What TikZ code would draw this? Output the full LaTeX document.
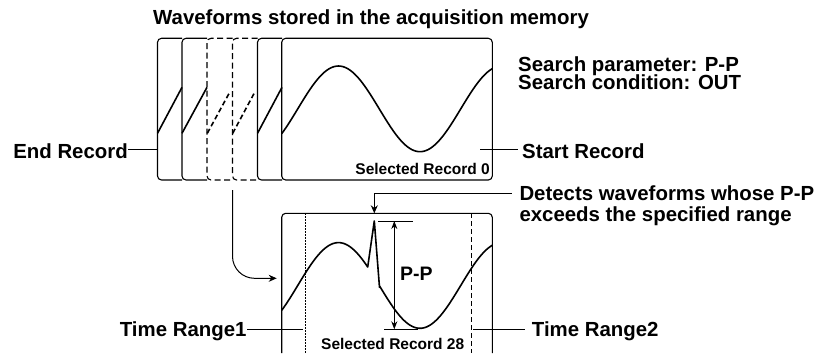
\documentclass[tikz,border=0pt]{standalone}
\usepackage{fontspec}
\setmainfont{Liberation Sans}
\usetikzlibrary{arrows.meta}
\begin{document}
\begin{tikzpicture}[x=1pt,y=-1pt,
  frame/.style={line width=1.1pt, rounded corners=4pt},
  dframe/.style={frame, dash pattern=on 6pt off 3.5pt},
  wave/.style={line width=1.6pt, line join=round},
  lbl/.style={font=\fontsize{20.4}{24}\selectfont\bfseries, inner sep=0pt},
  mlbl/.style={font=\fontsize{19.5}{22}\selectfont\bfseries, inner sep=0pt},
  slbl/.style={font=\fontsize{15.5}{18}\selectfont\bfseries, inner sep=0pt},
  conn/.style={line width=1pt},
  tip/.style={-{Stealth[length=8pt,width=7pt]}},
  dtip/.style={{Stealth[length=8pt,width=6pt]}-{Stealth[length=8pt,width=6pt]}},
]
\useasboundingbox (0,0) rectangle (826,353);

% ---------- title ----------
\node[lbl, anchor=base west] (title) at (153,25) {Waveforms stored in the acquisition memory};

% ---------- stacked records ----------
\draw[frame] (182,38.3) -- (157.5,38.3) -- (157.5,180) -- (182,180);
\draw[frame] (207,38.3) -- (182,38.3) -- (182,180) -- (207,180);
\draw[dframe] (232.5,38.3) -- (207,38.3) -- (207,180) -- (232.5,180);
\draw[dframe] (257.5,38.3) -- (232.5,38.3) -- (232.5,180) -- (257.5,180);
\draw[frame] (282,38.3) -- (257.5,38.3) -- (257.5,180) -- (282,180);
\coordinate (mtl) at (281.7,38.3);
\coordinate (mbr) at (492.3,180);
\draw[frame] (mtl) rectangle (mbr);

\draw[wave] (157.5,133.3) -- (182,87.3);
\draw[wave] (182,133.3) -- (207,87.3);
\draw[wave, dash pattern=on 5pt off 3pt] (207.3,133.3) -- (230,91.7);
\draw[wave, dash pattern=on 5pt off 3pt] (232.7,133.3) -- (255,91.7);
\draw[wave] (257.5,133.3) -- (282,87.3);
\draw[wave] plot[domain=281.7:492.3, samples=90] (\x, {108.85 - 42.85*cos((\x-338.5)/163*360)});

\node[slbl, anchor=base east] (sel0) at (490,174) {Selected Record 0};

% labels of the stack
\node[lbl, anchor=base east] (endrec) at (128,158.3) {End Record};
\coordinate (endA) at (128,149);
\coordinate (endB) at (157.5,149);
\draw[conn] (endA) -- (endB);

\node[lbl, anchor=base west] (startrec) at (522,158.3) {Start Record};
\coordinate (stA) at (480,149);
\coordinate (stB) at (518,149);
\draw[conn] (stA) -- (stB);

\node[lbl, anchor=base west] (sp1) at (518,71) {Search parameter: P-P};
\node[lbl, anchor=base west] (sp2) at (518,89.5) {Search condition: OUT};

% ---------- connector to selected record ----------
\coordinate (cA) at (232.5,190);
\coordinate (cB) at (276.7,278.3);
\draw[conn, tip, rounded corners=22pt] (cA) |- (cB);

% ---------- selected record 28 ----------
\draw[frame] (281.7,353) -- (281.7,213.3) -- (492.3,213.3) -- (492.3,353);
\coordinate (tr1t) at (305.7,213.3);
\coordinate (tr1b) at (305.7,353);
\coordinate (tr2t) at (471.7,213.3);
\coordinate (tr2b) at (471.7,353);
\draw[line width=1pt, dash pattern=on 1.5pt off 1.5pt] (tr1t) -- (tr1b);
\draw[line width=1pt, dash pattern=on 5pt off 3pt] (tr2t) -- (tr2b);

\draw[wave] plot[domain=281.7:367.7, samples=50] (\x, {285.45 - 42.85*cos((\x-338.5)/163*360)})
  -- (374.3,221) -- (379.5,287.4)
  -- plot[domain=379.5:492.3, samples=60] (\x, {285.45 - 42.85*cos((\x-338.5)/163*360)});

\node[slbl, anchor=base west] (sel28) at (321,349.3) {Selected Record 28};

% P-P measurement
\coordinate (ppT1) at (378.3,221);
\coordinate (ppT2) at (413.3,221);
\coordinate (ppB1) at (384.3,329.3);
\coordinate (ppB2) at (418,329.3);
\draw[conn] (ppT1) -- (ppT2);
\draw[conn] (ppB1) -- (ppB2);
\coordinate (ppA) at (394.3,221);
\coordinate (ppB) at (394.3,329.3);
\draw[conn, dtip] (ppA) -- (ppB);
\node[mlbl, anchor=base west] (pp) at (400,280.7) {P-P};

% detect annotation
\node[lbl, anchor=base west] (det1) at (519.3,200) {Detects waveforms whose P-P};
\node[lbl, anchor=base west] (det2) at (519.3,221.7) {exceeds the specified range};
\coordinate (dA) at (511.7,193.3);
\coordinate (dB) at (374.3,213.3);
\draw[conn, tip] (dA) -| (dB);

% time ranges
\node[lbl, anchor=base east] (tr1) at (246.7,336) {Time Range1};
\coordinate (t1A) at (247,329);
\coordinate (t1B) at (303.3,329);
\draw[conn] (t1A) -- (t1B);
\node[lbl, anchor=base west] (tr2) at (531.7,336) {Time Range2};
\coordinate (t2A) at (473.3,329);
\coordinate (t2B) at (525,329);
\draw[conn] (t2A) -- (t2B);
\end{tikzpicture}
\end{document}
